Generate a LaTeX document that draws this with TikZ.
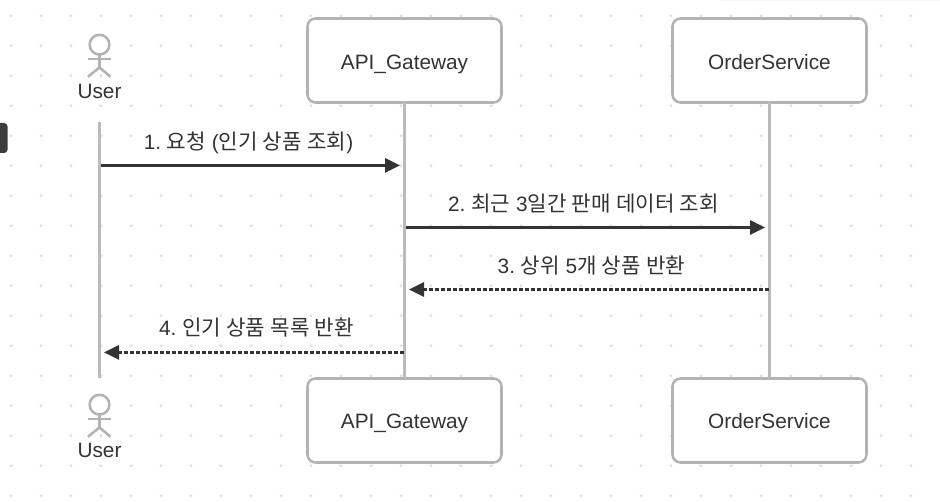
\documentclass[tikz,border=0pt]{standalone}
\usepackage{fontspec}
\setmainfont{Liberation Sans}
\newfontfamily\krfont[Scale=1.02,WordSpace=1.1]{Noto Sans CJK KR}
\usetikzlibrary{arrows.meta}
\definecolor{inkgray}{HTML}{333333}
\definecolor{framegray}{HTML}{B3B3B3}
\definecolor{lifegray}{HTML}{BBBBBB}
\definecolor{dotgray}{HTML}{E0E0E0}
\newcommand{\kr}[1]{{\krfont #1}}
\tikzset{
  partbox/.style={draw=framegray,fill=white,line width=1.9pt,rounded corners=6pt,minimum width=145.5pt,minimum height=63pt,outer sep=0pt},
  actorlabel/.style={fill=white,anchor=base,inner sep=0.5pt,text=inkgray,font=\fontsize{15.6}{18}\selectfont\frenchspacing},
  msglabel/.style={fill=white,anchor=base,inner sep=1pt,text=inkgray,font=\fontsize{15.6}{18}\selectfont\frenchspacing},
  actorline/.style={draw=framegray,line width=1.9pt},
  lifeline/.style={draw=lifegray,line width=1.9pt},
  callarrow/.style={draw=inkgray,line width=2.1pt,-{Triangle[length=11.25pt,width=10.5pt,fill=inkgray]}},
  returnarrow/.style={callarrow,dash pattern=on 2.8pt off 1.7pt}
}
\begin{document}
\begin{tikzpicture}[x=0.75pt,y=-0.75pt]
\useasboundingbox (0,0) rectangle (940,502);%
\fill [white] (0,0) rectangle (940,502);%

% Drawing grid of dots
\foreach \px in {0,...,30} {
  \foreach \py in {0,...,16} {
    \fill [dotgray] ({11+30*\px},{15.7+30*\py}) circle (1.25pt);%
  }
}

% Drawing tab at the left edge
\fill [inkgray!95!white, rounded corners=2.5pt] (-8,123) rectangle (7.5,153);%

% Drawing faint strip at the top edge
\fill [black!2] (718,0) rectangle (940,1);%

% Drawing participants
\node [partbox] (gatewayTop) at (404.5,60.5) {};%
\node [partbox] (orderTop) at (769.5,60.5) {};%
\node [partbox] (gatewayBottom) at (404.5,420.5) {};%
\node [partbox] (orderBottom) at (769.5,420.5) {};%
\node [actorlabel] (gatewayTopText) at (404.5,69.4) {API\_Gateway};%
\node [actorlabel] (orderTopText) at (769.5,69.4) {OrderService};%
\node [actorlabel] (gatewayBottomText) at (404.5,428.7) {API\_Gateway};%
\node [actorlabel] (orderBottomText) at (769.5,428.7) {OrderService};%

% Drawing lifelines
\coordinate (userStart) at (99.5,122);%
\coordinate (userEnd) at (99.5,378);%
\draw [lifeline] (userStart) -- (userEnd);%
\draw [lifeline] (gatewayTop) -- (gatewayBottom);%
\draw [lifeline] (orderTop) -- (orderBottom);%

% Drawing actor User at the top
\node [actorlabel] (userTop) at (99.5,98.4) {User};%
\draw [actorline, fill=white] (99.5,44.7) circle (7.4pt);%
\draw [actorline] (99.5,54.5) -- (99.5,67.5);%
\draw [actorline] (88,59.2) -- (111,59.2);%
\draw [actorline] (88,76.7) -- (99.5,67.5) -- (110.5,76.7);%

% Drawing actor User at the bottom
\node [actorlabel] (userBottom) at (99.5,457.8) {User};%
\draw [actorline, fill=white] (99.5,404.7) circle (7.4pt);%
\draw [actorline] (99.5,414.5) -- (99.5,427.5);%
\draw [actorline] (88,419.2) -- (111,419.2);%
\draw [actorline] (88,436.7) -- (99.5,427.5) -- (110.5,436.7);%

% Marking ends of the messages
\coordinate (callOneFrom) at (100.5,165.4);%
\coordinate (callOneTo) at (400,165.4);%
\coordinate (callTwoFrom) at (405.5,227.5);%
\coordinate (callTwoTo) at (765,227.5);%
\coordinate (backOneFrom) at (768.5,289.5);%
\coordinate (backOneTo) at (409,289.5);%
\coordinate (backTwoFrom) at (403.5,352.4);%
\coordinate (backTwoTo) at (104,352.4);%

% Drawing messages
\draw [callarrow] (callOneFrom) -- (callOneTo);%
\draw [callarrow] (callTwoFrom) -- (callTwoTo);%
\draw [returnarrow] (backOneFrom) -- (backOneTo);%
\draw [returnarrow] (backTwoFrom) -- (backTwoTo);%
\node [msglabel] (callOneText) at (248.5,149.4) {1. \kr{요청} (\kr{인기 상품 조회})};%
\node [msglabel] (callTwoText) at (583.5,211.5) {2. \kr{최근} 3\kr{일간 판매 데이터 조회}};%
\node [msglabel] (backOneText) at (591.5,273.5) {3. \kr{상위} 5\kr{개 상품 반환}};%
\node [msglabel] (backTwoText) at (256.5,336) {4. \kr{인기 상품 목록 반환}};%
\end{tikzpicture}
\end{document}
